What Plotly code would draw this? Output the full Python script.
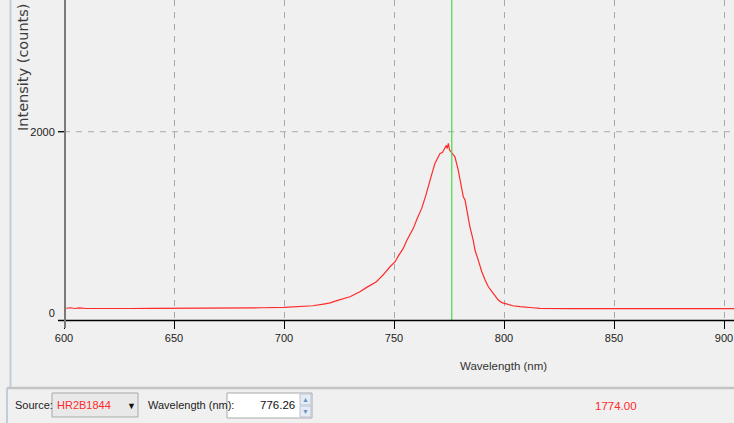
import plotly.graph_objects as go

# ---- data ----
wavelength_nm = [600, 603, 605, 607, 610, 615, 620, 630, 640, 650, 660, 670, 680, 690, 700,
                 705, 709, 713, 718, 721, 724, 727, 730, 732, 734.5, 737.6, 740, 742, 743.6,
                 745, 748, 749.7, 750.5, 752, 753.5, 754.2, 755.8, 757, 758.8, 760.5, 762.6,
                 764.5, 766.4, 767.5, 768.6, 769.8, 770.9, 772, 773.2, 773.8, 774.2, 774.7,
                 775.2, 775.9, 776.8, 777.7, 779.2, 780.4, 781.5, 782.3, 783.8, 784.5, 786,
                 786.8, 788.3, 789.9, 791.4, 792.9, 795.1, 796.7, 797.4, 799, 801.2, 804,
                 807.3, 810, 813, 816.4, 820, 830, 840, 850, 860, 870, 880, 890, 900, 905]
intensity_counts = [50, 58, 50, 57, 50, 52, 50, 50, 51, 51, 52, 53, 55, 58, 63,
                    67, 72, 80, 99, 112, 136, 155, 180, 205, 235, 283, 315, 345, 385,
                    419, 505, 548, 566, 630, 695, 713, 800, 860, 934, 1040, 1154,
                    1300, 1448, 1560, 1650, 1700, 1761, 1770, 1816, 1850, 1815, 1871,
                    1800, 1778, 1760, 1723, 1577, 1420, 1282, 1246, 1025, 951, 805,
                    695, 584, 455, 364, 290, 217, 162, 143, 115, 99, 80,
                    70, 62, 58, 52, 50, 49, 49, 48, 48, 48, 48, 48, 48, 48]
x_ticks = [600, 650, 700, 750, 800, 850, 900]
y_ticks = [0, 2000]
y_grid = [2000]
cursor_wavelength = 776.26
cursor_value = "1774.00"
source_name = "HR2B1844"
x_title = "Wavelength (nm)"
y_title = "Intensity (counts)"

# ---- layout geometry (pixels) ----
W, H = 734, 423
L, T = 64, 0
PW, PH = 670, 320
B = H - T - PH


def px(x):
    return (x - L) / PW


def py(y):
    return (T + PH - y) / PH


FONT = "Liberation Sans Narrow, Arial Narrow, Liberation Sans, Arial, sans-serif"
BG = "#f0f0f0"
GRID = "#a8a8a8"

fig = go.Figure()
fig.add_trace(go.Scatter(x=wavelength_nm, y=intensity_counts, mode="lines",
                         line=dict(color="#ff2a2a", width=1.2), hoverinfo="skip",
                         showlegend=False))

shapes = []
# horizontal grid (only at 2000) and its tick mark
for g in y_grid:
    shapes.append(dict(type="line", xref="paper", yref="y", x0=0, x1=1, y0=g, y1=g,
                       line=dict(color=GRID, width=1, dash="6px,6px"), layer="below"))
    shapes.append(dict(type="line", xref="paper", yref="y", x0=px(58), x1=px(65), y0=g, y1=g,
                       line=dict(color="#000000", width=1.3)))
# cursor line
shapes.append(dict(type="line", xref="x", yref="paper", x0=cursor_wavelength, x1=cursor_wavelength,
                   y0=0, y1=1, line=dict(color="#4ad94a", width=1.2)))
# axis lines
shapes.append(dict(type="line", xref="paper", yref="paper", x0=px(58), x1=1, y0=py(320.5), y1=py(320.5),
                   line=dict(color="#000000", width=1.3)))
shapes.append(dict(type="line", xref="paper", yref="paper", x0=px(65), x1=px(65), y0=py(328), y1=1.02,
                   line=dict(color="#7a7a7a", width=2)))
# left window border
shapes.append(dict(type="line", xref="paper", yref="paper", x0=px(10.5), x1=px(10.5), y0=py(388), y1=1.02,
                   line=dict(color="#c0ccd8", width=2)))
shapes.append(dict(type="line", xref="paper", yref="paper", x0=px(7), x1=px(7), y0=py(424), y1=py(388),
                   line=dict(color="#c0ccd8", width=2)))
# bottom panel separator
shapes.append(dict(type="line", xref="paper", yref="paper", x0=px(7), x1=px(740), y0=py(388), y1=py(388),
                   line=dict(color="#c4c4c4", width=2.5)))
# dropdown box
shapes.append(dict(type="rect", xref="paper", yref="paper", x0=px(52), x1=px(138), y0=py(417), y1=py(393),
                   fillcolor="#e9e9e9", line=dict(color="#a9a9a9", width=1)))
# input box
shapes.append(dict(type="rect", xref="paper", yref="paper", x0=px(227), x1=px(312), y0=py(418), y1=py(393),
                   fillcolor="#ffffff", line=dict(color="#a9a9a9", width=1)))
# spinner buttons
shapes.append(dict(type="rect", xref="paper", yref="paper", x0=px(300), x1=px(311), y0=py(405), y1=py(394),
                   fillcolor="#e6ecf4", line=dict(color="#b8c4d4", width=1)))
shapes.append(dict(type="rect", xref="paper", yref="paper", x0=px(300), x1=px(311), y0=py(417), y1=py(406),
                   fillcolor="#e6ecf4", line=dict(color="#b8c4d4", width=1)))

annotations = []


def label(text, x, y, size=11, color="#222222", xanchor="left", angle=0, family=FONT):
    annotations.append(dict(text=text, xref="paper", yref="paper", x=px(x), y=py(y),
                            xanchor=xanchor, yanchor="middle", showarrow=False, textangle=angle,
                            font=dict(family=family, size=size, color=color)))


label(y_title, 23, 67, size=14.5, color="#3c3c3c", xanchor="center", angle=-90,
      family="DejaVu Sans, Verdana, sans-serif")
label(x_title, 503, 366, size=11.5, color="#333333", xanchor="center")
label("Source:", 13, 405, size=11)
label(source_name, 55, 405, size=11, color="#ff2a2a")
label("▼", 131, 406, size=9, color="#111111", xanchor="center")
label("Wavelength (nm):", 146, 405, size=11)
label(f"{cursor_wavelength:.2f}", 297, 405, size=11.5, color="#111111", xanchor="right")
label("▲", 305.5, 399.5, size=7, color="#6f8fc4", xanchor="center")
label("▼", 305.5, 411.5, size=7, color="#6f8fc4", xanchor="center")
label(cursor_value, 616, 406, size=11.5, color="#ff2a2a", xanchor="center")

fig.update_layout(
    width=W, height=H,
    margin=dict(l=L, r=0, t=T, b=B, pad=0),
    paper_bgcolor=BG, plot_bgcolor=BG,
    shapes=shapes, annotations=annotations,
    xaxis=dict(range=[600, 600 + PW / 2.2], tickvals=x_ticks, ticks="outside", ticklen=8,
               tickcolor="#000000", tickwidth=1, showline=False, zeroline=False,
               showgrid=True, gridcolor=GRID, griddash="6px,6px", gridwidth=1,
               ticklabeloverflow="allow",
               tickfont=dict(family=FONT, size=11, color="#222222"), fixedrange=True),
    yaxis=dict(range=[-77, 3453], tickvals=y_ticks, ticks="outside", ticklen=6,
               tickcolor=BG, tickwidth=1, showline=False, zeroline=False,
               showgrid=False,
               tickfont=dict(family=FONT, size=11, color="#222222"), fixedrange=True),
)

fig.write_html("out.html", config={"displayModeBar": False})
